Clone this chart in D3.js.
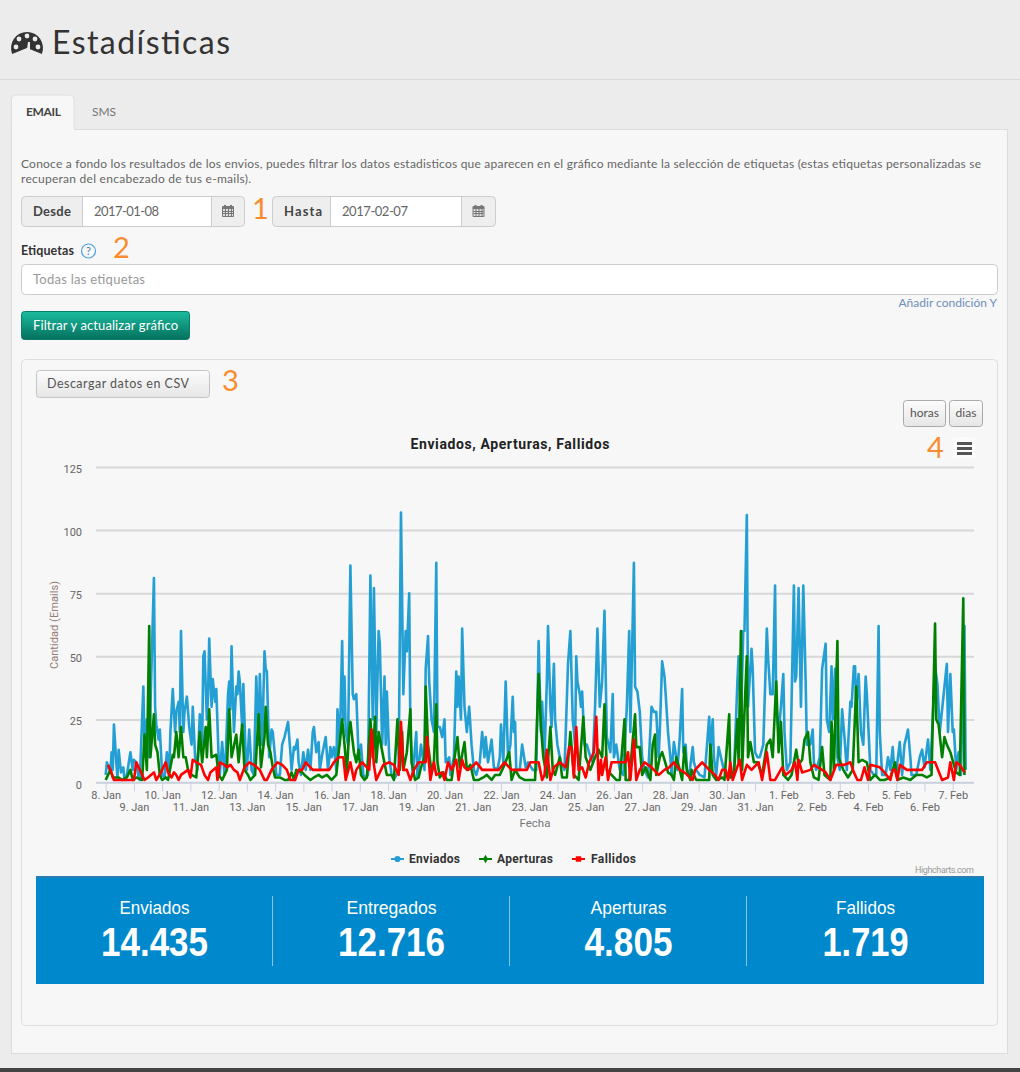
<!DOCTYPE html>
<html lang="es">
<head>
<meta charset="utf-8">
<title>Estadísticas</title>
<script src="https://cdn.jsdelivr.net/npm/d3@7/dist/d3.min.js"></script>
<style>
  html, body { margin: 0; padding: 0; background: #ececec; overflow: hidden; }
  svg { display: block; }
  text { font-family: Lato, "Open Sans", sans-serif; }
</style>
</head>
<body>
<div id="page"></div>
<script>
// ===== Datos del gráfico: [horas desde el 8 de enero, cantidad] =====
const enviados = [[0,3],[1,8],[4,4],[5,12],[6,5],[7,23],[9,8],[10,2],[11,13],[13,4],[15,6],[16,1],[18,3],[21,12],[23,5],[24,9],[26,8],[28,2],[29,1],[32,38],[33,15],[35,25],[37,10],[38,30],[41,81],[42,30],[43,23],[45,17],[46,21],[48,3],[50,2],[52,12],[54,4],[55,20],[57,37],[59,20],[60,28],[62,32],[63,20],[64,60],[66,20],[67,28],[69,34],[71,22],[73,15],[74,30],[76,10],[78,5],[80,27],[82,15],[83,50],[84,52],[86,25],[87,34],[88,57],[90,30],[91,41],[93,32],[94,37],[96,10],[97,3],[99,16],[101,3],[102,10],[104,35],[105,40],[106,29],[107,54],[109,20],[111,38],[112,35],[113,44],[114,40],[116,22],[117,39],[119,10],[120,5],[122,21],[124,5],[126,3],[128,42],[130,15],[131,43],[133,15],[135,52],[136,45],[137,44],[139,10],[141,21],[142,20],[144,10],[145,3],[148,3],[150,15],[152,18],[153,20],[155,24],[157,12],[158,5],[160,14],[161,13],[163,17],[164,8],[166,3],[168,12],[170,5],[172,13],[174,5],[176,20],[177,22],[179,12],[181,16],[182,5],[184,11],[187,18],[189,5],[191,14],[192,10],[194,14],[196,5],[197,29],[199,15],[201,56],[202,25],[203,42],[204,20],[206,15],[208,86],[210,35],[211,33],[213,35],[215,10],[217,15],[219,3],[221,2],[223,3],[225,82],[227,25],[228,77],[230,20],[232,60],[233,55],[235,15],[237,42],[238,15],[239,36],[241,10],[243,3],[246,2],[249,5],[251,107],[253,35],[255,60],[256,52],[258,75],[259,20],[261,3],[264,20],[265,2],[268,15],[271,5],[272,45],[274,58],[275,40],[277,25],[279,20],[281,87],[282,22],[284,22],[286,18],[288,25],[289,8],[292,10],[293,3],[296,10],[298,44],[299,30],[300,42],[302,25],[303,61],[305,30],[307,20],[309,30],[311,15],[313,5],[315,3],[318,8],[320,20],[322,10],[323,18],[325,8],[328,17],[330,6],[333,5],[335,10],[336,23],[338,8],[340,40],[342,10],[344,15],[346,34],[347,20],[348,24],[349,5],[352,5],[354,15],[357,6],[359,8],[363,5],[366,5],[368,56],[370,20],[371,32],[373,10],[375,40],[376,62],[378,30],[379,22],[381,47],[382,25],[384,15],[386,10],[387,8],[390,5],[393,47],[395,60],[397,25],[399,15],[400,50],[401,40],[403,35],[404,30],[405,36],[407,15],[409,15],[412,10],[414,8],[416,30],[418,61],[420,30],[422,40],[424,68],[426,18],[429,12],[431,35],[432,10],[434,15],[437,5],[440,3],[443,30],[445,60],[446,20],[449,87],[450,38],[452,36],[454,28],[456,10],[458,5],[461,2],[464,30],[466,28],[468,28],[470,10],[471,20],[473,48],[475,42],[476,35],[478,20],[480,10],[481,3],[483,16],[485,10],[486,5],[488,18],[490,37],[491,12],[493,15],[494,5],[496,3],[499,14],[500,8],[502,5],[505,3],[509,2],[513,26],[514,12],[516,25],[517,10],[519,3],[521,14],[523,10],[525,6],[527,4],[530,2],[534,3],[537,40],[538,50],[540,25],[542,60],[543,60],[545,106],[546,30],[549,53],[550,45],[552,12],[554,10],[556,10],[559,15],[562,61],[563,50],[565,35],[567,35],[569,78],[570,30],[572,20],[574,30],[576,43],[577,20],[579,5],[582,8],[585,78],[586,40],[587,42],[589,77],[591,30],[593,78],[595,40],[596,15],[599,15],[601,21],[602,8],[604,5],[607,10],[609,45],[612,55],[613,25],[615,20],[617,46],[618,25],[620,45],[622,10],[624,5],[626,29],[628,18],[630,5],[633,32],[634,30],[636,46],[637,46],[638,30],[640,43],[642,20],[644,15],[646,42],[647,35],[650,5],[653,3],[655,3],[657,62],[658,20],[660,3],[663,3],[665,10],[667,5],[669,14],[670,7],[672,4],[675,16],[677,3],[679,15],[682,21],[684,10],[685,3],[689,3],[692,10],[694,13],[696,6],[699,17],[701,5],[703,25],[705,46],[707,39],[709,20],[713,38],[715,47],[716,20],[718,43],[720,20],[721,21],[723,5],[725,12],[727,3],[730,62],[731,5]];

const aperturas = [[0,1],[4,5],[6,2],[11,2],[14,1],[18,2],[21,5],[23,1],[26,2],[31,1],[33,19],[35,5],[37,62],[38,10],[41,27],[42,15],[44,12],[46,3],[48,1],[51,2],[53,1],[57,11],[58,10],[60,20],[62,10],[64,22],[66,10],[68,10],[70,5],[73,3],[77,2],[80,20],[82,8],[85,22],[86,10],[88,29],[90,10],[94,11],[96,3],[99,1],[103,5],[105,29],[107,10],[111,19],[113,8],[116,23],[118,5],[121,3],[123,1],[127,3],[130,27],[132,6],[135,18],[136,30],[138,15],[140,12],[142,6],[144,2],[148,2],[152,1],[155,1],[158,4],[160,1],[162,5],[167,4],[169,3],[174,1],[177,2],[181,3],[184,2],[188,3],[192,1],[196,3],[201,25],[203,15],[205,4],[207,21],[208,24],[211,12],[213,8],[215,13],[217,3],[220,1],[222,2],[225,25],[227,10],[229,26],[230,8],[232,20],[234,15],[236,10],[239,3],[243,3],[245,1],[248,25],[250,5],[252,20],[253,5],[256,12],[259,29],[260,8],[263,1],[266,2],[268,6],[271,10],[272,38],[274,15],[277,4],[279,8],[281,31],[282,8],[284,2],[287,4],[290,1],[294,1],[296,8],[299,18],[301,6],[305,16],[307,5],[310,7],[313,1],[317,1],[321,2],[324,3],[328,1],[331,3],[335,3],[339,7],[343,12],[345,1],[348,5],[352,2],[356,1],[365,1],[368,43],[370,22],[372,10],[375,2],[378,22],[380,5],[382,3],[386,10],[388,2],[392,2],[395,20],[398,3],[402,1],[406,26],[408,10],[412,5],[416,10],[419,13],[422,10],[424,31],[426,5],[430,3],[434,1],[437,1],[441,25],[442,1],[445,1],[450,27],[451,14],[454,14],[456,3],[459,6],[463,1],[465,15],[467,19],[468,3],[471,10],[473,12],[475,9],[478,4],[481,3],[483,1],[485,10],[488,5],[490,1],[492,14],[494,5],[497,1],[498,5],[502,1],[508,1],[513,1],[514,15],[516,3],[519,1],[524,2],[526,1],[530,27],[531,2],[534,3],[537,25],[538,8],[540,60],[541,5],[543,28],[545,50],[546,10],[548,16],[551,8],[554,8],[558,3],[562,15],[565,17],[567,10],[570,40],[572,12],[574,24],[576,3],[580,1],[583,3],[587,13],[589,7],[592,9],[594,17],[597,20],[599,8],[602,2],[606,1],[609,14],[611,3],[616,1],[617,24],[619,5],[622,56],[623,10],[627,5],[631,2],[635,5],[638,38],[640,8],[643,9],[647,8],[650,1],[654,3],[658,1],[662,1],[667,2],[671,8],[673,1],[678,2],[684,1],[689,3],[694,3],[698,2],[702,3],[705,63],[706,25],[708,23],[711,10],[713,18],[715,15],[718,12],[721,7],[723,4],[726,3],[729,73],[730,3]];

const fallidos = [[2,7],[4,5],[7,1],[11,1],[15,1],[21,1],[24,1],[26,8],[29,5],[33,1],[36,2],[41,4],[43,1],[47,4],[51,8],[53,4],[56,2],[58,4],[60,3],[62,1],[64,3],[67,4],[70,5],[72,2],[74,9],[77,8],[81,7],[84,3],[87,1],[89,4],[94,6],[95,1],[97,8],[101,7],[103,6],[106,7],[109,5],[112,4],[114,1],[118,6],[122,8],[126,7],[131,5],[135,1],[137,1],[141,5],[146,8],[150,7],[154,5],[157,1],[161,1],[164,5],[167,5],[170,8],[176,5],[184,5],[190,5],[194,8],[198,10],[202,10],[204,1],[208,8],[211,1],[213,5],[216,7],[218,8],[222,6],[224,5],[226,21],[228,7],[230,1],[233,4],[236,7],[241,8],[245,7],[249,3],[251,24],[253,5],[256,5],[259,1],[262,5],[266,8],[272,8],[273,18],[276,1],[279,8],[281,3],[286,4],[288,1],[291,8],[294,5],[298,9],[300,1],[303,9],[305,6],[308,5],[311,6],[315,8],[320,5],[334,5],[339,8],[345,5],[358,5],[361,8],[368,8],[371,1],[373,3],[375,13],[378,1],[381,6],[386,8],[391,6],[394,14],[396,14],[398,2],[400,22],[402,5],[405,6],[408,2],[411,8],[415,12],[417,26],[419,1],[421,9],[422,3],[425,10],[427,1],[430,8],[434,8],[442,8],[444,12],[446,1],[449,17],[451,1],[454,5],[458,8],[464,6],[470,3],[475,5],[479,6],[483,8],[488,5],[492,4],[499,1],[501,5],[507,8],[513,5],[518,3],[521,1],[524,5],[527,5],[529,1],[531,8],[533,1],[536,5],[539,9],[541,1],[545,7],[549,5],[555,8],[558,1],[562,12],[565,1],[569,1],[575,6],[578,3],[583,5],[586,8],[588,1],[589,9],[592,4],[599,5],[602,7],[609,5],[612,4],[616,1],[621,7],[628,7],[633,8],[636,4],[639,1],[642,1],[645,6],[648,1],[650,7],[658,6],[662,4],[667,1],[669,5],[671,5],[673,1],[675,7],[681,5],[694,5],[698,8],[705,8],[711,1],[716,2],[718,8],[721,1],[723,8],[726,7],[730,4]];

const yTicks = [0, 25, 50, 75, 100, 125];
const dayLabels = ['8. Jan','9. Jan','10. Jan','11. Jan','12. Jan','13. Jan','14. Jan','15. Jan','16. Jan','17. Jan','18. Jan','19. Jan','20. Jan','21. Jan','22. Jan','23. Jan','24. Jan','25. Jan','26. Jan','27. Jan','28. Jan','29. Jan','30. Jan','31. Jan','1. Feb','2. Feb','3. Feb','4. Feb','5. Feb','6. Feb','7. Feb'];
const seriesNames = ['Enviados', 'Aperturas', 'Fallidos'];
const seriesColors = ['#249fd3', '#008000', '#ff0000'];
const statLabels = ['Enviados', 'Entregados', 'Aperturas', 'Fallidos'];
const statValues = ['14.435', '12.716', '4.805', '1.719'];

const svg = d3.select('#page').append('svg').attr('width', 1020).attr('height', 1072);

const defs = svg.append('defs');
function gradient(id, top, bottom) {
  const g = defs.append('linearGradient').attr('id', id).attr('x1', 0).attr('y1', 0).attr('x2', 0).attr('y2', 1);
  g.append('stop').attr('offset', '0%').attr('stop-color', top);
  g.append('stop').attr('offset', '100%').attr('stop-color', bottom);
}
gradient('btnGreen', '#1cbc9f', '#04705d');
gradient('btnGrey', '#fcfcfc', '#e6e6e6');

// ---- Small drawing helpers ----
function box(x, y, w, h, fill, stroke, r) {
  return svg.append('rect').attr('x', x + 0.5).attr('y', y + 0.5).attr('width', w - 1).attr('height', h - 1)
    .attr('rx', r || 0).attr('fill', fill).attr('stroke', stroke || 'none');
}

function label(str, x, y, o) {
  o = o || {};
  const t = svg.append('text').attr('x', x).attr('y', y).text(str)
    .attr('font-size', o.size || 12)
    .attr('fill', o.color || '#555')
    .attr('font-weight', o.weight || 400)
    .attr('text-anchor', o.anchor || 'start');
  if (o.family) t.style('font-family', o.family);
  if (o.width) t.attr('textLength', o.width).attr('lengthAdjust', o.adjust || 'spacing');
  return t;
}

function calendar(cx, cy) {
  const g = svg.append('g').attr('transform', `translate(${cx - 6},${cy - 6})`);
  g.append('rect').attr('y', 1).attr('width', 12).attr('height', 11).attr('fill', '#777').attr('rx', 1);
  g.append('rect').attr('x', 1).attr('y', 4).attr('width', 10).attr('height', 7).attr('fill', '#ddd');
  [3, 6, 9].forEach(d => g.append('line').attr('x1', d + 0.5).attr('x2', d + 0.5).attr('y1', 4).attr('y2', 11).attr('stroke', '#777'));
  [6, 8].forEach(d => g.append('line').attr('x1', 1).attr('x2', 11).attr('y1', d + 0.5).attr('y2', d + 0.5).attr('stroke', '#777'));
  [3, 9].forEach(d => g.append('rect').attr('x', d - 1).attr('y', 0).attr('width', 2).attr('height', 3).attr('fill', '#777'));
}

// ---- Page chrome ----
svg.append('rect').attr('width', 1020).attr('height', 1072).attr('fill', '#ececec');
svg.append('line').attr('x1', 0).attr('x2', 1020).attr('y1', 79.5).attr('y2', 79.5).attr('stroke', '#d9d9d9');
svg.append('rect').attr('y', 1068).attr('width', 1020).attr('height', 4).attr('fill', '#444');

// gauge icon
const gauge = svg.append('g').attr('transform', 'translate(27,48)');
gauge.append('path').attr('d', d3.arc()({ innerRadius: 0, outerRadius: 16, startAngle: -Math.PI * 0.62, endAngle: Math.PI * 0.62 })).attr('fill', '#333');
[[-11, -1], [-8, -9], [0, -12], [8, -9], [11, -1]].forEach(p =>
  gauge.append('circle').attr('cx', p[0]).attr('cy', p[1]).attr('r', 2.4).attr('fill', '#ececec'));
gauge.append('path').attr('d', 'M-1,8 L1,-6 L3,-6 L3,8 Z').attr('fill', '#ececec');
label('Estadísticas', 52, 54, { size: 32, color: '#333', width: 178 });

// tabs and panels
box(11, 129, 997, 925, '#f7f7f7', '#dcdcdc');
svg.append('path').attr('d', 'M11.5,130 V99 a4,4 0 0 1 4,-4 H70 a4,4 0 0 1 4,4 V130').attr('fill', '#f7f7f7').attr('stroke', '#dedede');
svg.append('rect').attr('x', 12).attr('y', 128).attr('width', 62).attr('height', 3).attr('fill', '#f7f7f7');
label('EMAIL', 26, 116, { size: 12, weight: 700, color: '#444', width: 35 });
label('SMS', 92, 116, { size: 12, color: '#777', width: 24 });

label('Conoce a fondo los resultados de los envios, puedes filtrar los datos estadisticos que aparecen en el gráfico mediante la selección de etiquetas (estas etiquetas personalizadas se', 21, 168, { size: 12, color: '#666', width: 960 });
label('recuperan del encabezado de tus e-mails).', 21, 183, { size: 12, color: '#666', width: 230 });

// date pickers
[[21, 61, 129, 34, 'Desde', '2017-01-08'], [272, 58, 131, 35, 'Hasta', '2017-02-07']].forEach(d => {
  const x = d[0];
  box(x, 196, d[1] + d[2] + d[3], 31, '#eee', '#ccc', 4);
  svg.append('rect').attr('x', x + d[1]).attr('y', 197).attr('width', d[2]).attr('height', 29).attr('fill', '#fff');
  [x + d[1], x + d[1] + d[2]].forEach(lx => svg.append('line').attr('x1', lx + 0.5).attr('x2', lx + 0.5).attr('y1', 196).attr('y2', 227).attr('stroke', '#ccc'));
  label(d[4], x + 12, 216, { size: 13, weight: 700, color: '#444', width: 38 });
  label(d[5], x + d[1] + 12, 216, { size: 13, color: '#666', width: d[4] === 'Desde' ? 65 : 66 });
  calendar(x + d[1] + d[2] + d[3] / 2, 211);
});

label('Etiquetas', 21, 255, { size: 12.5, weight: 700, color: '#333', width: 53 });
svg.append('circle').attr('cx', 88.5).attr('cy', 251).attr('r', 7).attr('fill', 'none').attr('stroke', '#4ba3e0').attr('stroke-width', 1.2);
label('?', 88.5, 255, { size: 11, color: '#4a7fa8', anchor: 'middle' });

box(21, 264, 977, 31, '#fff', '#ccc', 4);
label('Todas las etiquetas', 33, 284, { size: 13, color: '#999', width: 112 });
label('Añadir condición Y', 997, 307, { size: 12, color: '#6d8fba', anchor: 'end' });

box(21, 311, 169, 29, 'url(#btnGreen)', '#0a7d68', 3);
label('Filtrar y actualizar gráfico', 33, 330, { size: 13, color: '#fff', width: 145 });

// ---- Chart box ----
box(21, 359, 977, 667, '#f7f7f7', '#dedede', 4);
box(36, 370, 174, 28, 'url(#btnGrey)', '#c4c4c4', 3);
label('Descargar datos en CSV', 47, 388, { size: 12.5, color: '#555', width: 142 });
box(903, 400, 43, 27, 'url(#btnGrey)', '#aaa', 3);
label('horas', 924.5, 417, { size: 12, anchor: 'middle' });
box(949, 400, 34, 27, 'url(#btnGrey)', '#aaa', 3);
label('dias', 966, 417, { size: 12, anchor: 'middle' });

label('Enviados, Aperturas, Fallidos', 510, 449, { size: 14, weight: 700, color: '#222', anchor: 'middle', family: 'Roboto', width: 199 });

// hamburger menu
svg.append('rect').attr('x', 953).attr('y', 437).attr('width', 22).attr('height', 21).attr('fill', '#fbfbfb');
[443, 448, 453].forEach(y => svg.append('rect').attr('x', 957).attr('y', y - 1).attr('width', 15).attr('height', 3).attr('fill', '#555'));

// orange step numbers, on top of the boxes
[['1', 252, 219], ['2', 113, 258], ['3', 222, 391], ['4', 927, 458]].forEach(n =>
  label(n[0], n[1], n[2], { size: 29, color: '#f98c2e' }));

// ---- Scales and axes ----
const xScale = d3.scaleLinear().domain([0, 720]).range([105.7, 952.7]);
const yScale = d3.scaleLinear().domain([0, 125]).range([782.5, 467]);
const plotLeft = 96, plotRight = 974;

const yAxis = svg.append('g').attr('transform', `translate(${plotLeft},0)`)
  .call(d3.axisLeft(yScale).tickValues(yTicks).tickSize(-(plotRight - plotLeft)).tickPadding(14));
yAxis.select('.domain').remove();
yAxis.selectAll('.tick line').attr('stroke', '#d8d8d8').attr('stroke-width', 2);
yAxis.selectAll('.tick text').attr('fill', '#666').attr('font-size', 11).attr('dy', '0.5em').style('font-family', 'Roboto');

const dayHours = dayLabels.map((d, i) => i * 24);
const xAxis = svg.append('g').attr('transform', `translate(0,${yScale(0)})`)
  .call(d3.axisBottom(xScale).tickValues(dayHours).tickSize(9).tickFormat((d, i) => dayLabels[i]));
xAxis.select('.domain').attr('d', `M${plotLeft},0H${plotRight}`).attr('stroke', '#c6d2e2').attr('stroke-width', 1.5);
xAxis.selectAll('.tick line').attr('stroke', '#c6d2e2');
xAxis.selectAll('.tick text').attr('fill', '#666').attr('font-size', 11).style('font-family', 'Roboto')
  .attr('y', (d, i) => i % 2 ? 28 : 16.5).attr('dy', 0);

const line = d3.line().x(d => xScale(d[0])).y(d => yScale(d[1]));
[enviados, aperturas, fallidos].forEach((s, i) => {
  svg.append('path').datum(s).attr('d', line).attr('fill', 'none')
    .attr('stroke', seriesColors[i]).attr('stroke-width', 2.6).attr('stroke-linejoin', 'round');
});

// axis titles
label('Fecha', 535, 827, { size: 11.5, color: '#777', anchor: 'middle', family: 'Roboto' });
label('Cantidad (Emails)', 0, 0, { size: 11, color: '#957c74', anchor: 'middle', family: 'Roboto', width: 88 })
  .attr('transform', 'translate(58,625) rotate(-90)');

// ---- Legend ----
const legendX = [391, 479, 572];
const legendTextX = [409, 497, 591];
const legendTextW = [51, 56, 45];
const legendShapes = [d3.symbolCircle, d3.symbolDiamond, d3.symbolSquare];
seriesNames.forEach((name, i) => {
  svg.append('line').attr('x1', legendX[i]).attr('x2', legendX[i] + 13).attr('y1', 859).attr('y2', 859)
    .attr('stroke', seriesColors[i]).attr('stroke-width', 2);
  svg.append('path').attr('d', d3.symbol().type(legendShapes[i]).size(i === 1 ? 22 : 30))
    .attr('transform', `translate(${legendX[i] + 6.5},859)`).attr('fill', seriesColors[i]);
  label(name, legendTextX[i], 863, { size: 12, weight: 700, color: '#333', family: 'Roboto', width: legendTextW[i] });
});
label('Highcharts.com', 974, 873, { size: 9, color: '#999', anchor: 'end', family: 'Roboto', width: 59 });

// ---- Totals strip ----
svg.append('rect').attr('x', 36).attr('y', 876).attr('width', 948).attr('height', 108).attr('fill', '#0088cc');
svg.append('rect').attr('x', 36).attr('y', 876).attr('width', 948).attr('height', 2).attr('fill', '#2a7db0');
const statX = d3.scaleBand().domain(statLabels).range([36, 984]);
const statLabelW = [70, 90, 76, 59];
const statValueW = [107, 107, 88, 86];
statLabels.forEach((s, i) => {
  const cx = statX(s) + statX.bandwidth() / 2;
  label(s, cx, 914, { size: 18.5, color: '#fff', anchor: 'middle', family: 'Liberation Sans', width: statLabelW[i], adjust: 'spacingAndGlyphs' });
  label(statValues[i], cx, 956, { size: 40, weight: 700, color: '#fff', anchor: 'middle', family: 'Liberation Sans', width: statValueW[i], adjust: 'spacingAndGlyphs' });
  if (i > 0) {
    svg.append('line').attr('x1', statX(s) - 0.5).attr('x2', statX(s) - 0.5).attr('y1', 896).attr('y2', 966)
      .attr('stroke', '#8cc3e6').attr('stroke-width', 1);
  }
});
</script>
</body>
</html>
